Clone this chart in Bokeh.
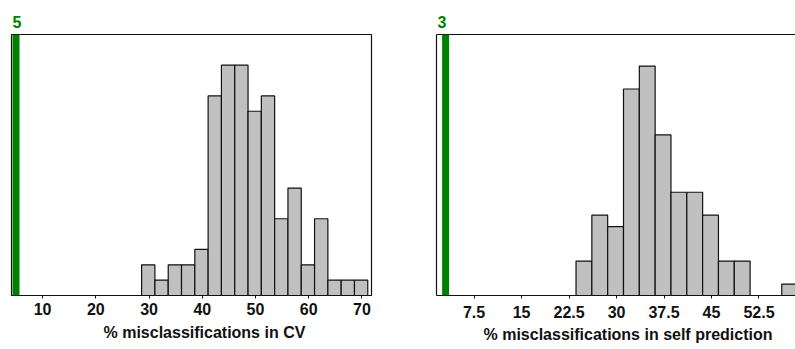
from bokeh.plotting import figure
from bokeh.layouts import row
from bokeh.models import FixedTicker, LinearAxis, Range1d, Span, Title
from bokeh.embed import file_html
from bokeh.resources import INLINE

# Histogram of misclassification rates in cross-validation
cv_bin_start = 28.6
cv_bin_width = 2.5
cv_counts = [2, 1, 2, 2, 3, 13, 15, 15, 12, 13, 5, 7, 2, 5, 1, 1, 1]
cv_observed = 5
cv_ticks = [10, 20, 30, 40, 50, 60, 70]
cv_tick_labels = ["10", "20", "30", "40", "50", "60", "70"]
cv_title = "% misclassifications in CV"

# Histogram of misclassification rates in self prediction
self_bin_start = 23.6
self_bin_width = 2.5
self_counts = [3, 7, 6, 18, 20, 14, 9, 9, 7, 3, 3, 0, 0, 1]
self_observed = 3
self_ticks = [7.5, 15, 22.5, 30, 37.5, 45, 52.5]
self_tick_labels = ["7.5", "15", "22.5", "30", "37.5", "45", "52.5"]
self_title = "% misclassifications in self prediction"

FONT = "Liberation Sans"
GREEN = "#008000"
BAR_FILL = "#c0c0c0"
INK = "#111111"


def bare_axis():
    return LinearAxis(ticker=FixedTicker(ticks=[]), major_tick_line_color=None,
                      minor_tick_line_color=None, major_tick_out=0, major_tick_in=0,
                      major_label_standoff=0, axis_line_color=INK, axis_line_width=1.2)


def histogram(width, border_left, border_right, x_range, y_top, bin_start, bin_width,
              counts, observed, ticks, tick_labels, title, label_standoff,
              title_offset, title_standoff, full_outline):
    p = figure(width=width, height=349, x_range=Range1d(*x_range), y_range=Range1d(0, y_top),
               output_backend="svg", toolbar_location=None, title=None, y_axis_location=None,
               min_border_left=border_left, min_border_right=border_right,
               min_border_top=34, min_border_bottom=54,
               background_fill_color="white", border_fill_color="white")
    p.grid.visible = False

    lefts = [bin_start + i * bin_width for i in range(len(counts))]
    rights = [x + bin_width for x in lefts]
    p.quad(left=lefts, right=rights, bottom=0, top=counts,
           fill_color=BAR_FILL, line_color=INK, line_width=1.2)

    # observed value: green line with its value above the panel
    p.add_layout(Span(location=observed, dimension="height",
                      line_color=GREEN, line_width=7))

    xa = p.xaxis[0]
    xa.ticker = FixedTicker(ticks=ticks)
    xa.major_label_overrides = {t: s for t, s in zip(ticks, tick_labels)}
    xa.minor_tick_line_color = None
    xa.major_tick_in = 0
    xa.major_tick_out = 3
    xa.major_tick_line_color = INK
    xa.axis_line_color = INK
    xa.axis_line_width = 1.2
    xa.major_label_standoff = label_standoff
    xa.major_label_text_font = FONT
    xa.major_label_text_font_style = "bold"
    xa.major_label_text_font_size = "16px"
    xa.major_label_text_color = INK

    p.add_layout(Title(text=title, align="left", offset=title_offset, standoff=title_standoff,
                       text_font=FONT, text_font_style="bold", text_font_size="16px",
                       text_color=INK), "below")

    if full_outline:
        p.outline_line_color = INK
        p.outline_line_width = 1.2
    else:
        # open on the right: only left and top borders
        p.outline_line_color = None
        p.add_layout(bare_axis(), "left")
        p.add_layout(bare_axis(), "above")

    p.add_layout(Title(text=str(observed), align="left", offset=1, standoff=14,
                       text_font=FONT, text_font_style="bold", text_font_size="16px",
                       text_color=GREEN), "above")
    return p


p1 = histogram(400, 11, 29, (4.15, 71.8), 17.0, cv_bin_start, cv_bin_width, cv_counts,
               cv_observed, cv_ticks, cv_tick_labels, cv_title, 4, 92, 8, True)
p2 = histogram(395, 36, 0, (1.56, 58.27), 22.75, self_bin_start, self_bin_width, self_counts,
               self_observed, self_ticks, self_tick_labels, self_title, 7, 47, 7, False)

layout = row(p1, p2)
open("out.html", "w").write(file_html(layout, INLINE))
